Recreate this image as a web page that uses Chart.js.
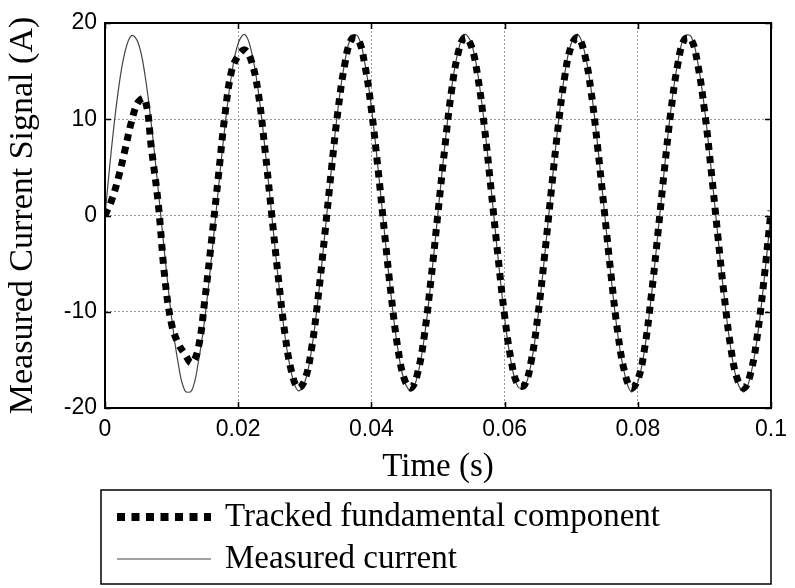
<!DOCTYPE html>
<html lang="en">
<head>
<meta charset="utf-8">
<script src="https://cdn.jsdelivr.net/npm/chart.js"></script>
<style>
  html, body { margin: 0; padding: 0; background: #fff; }
  #wrap { width: 795px; height: 588px; }
</style>
</head>
<body>
<div id="wrap"><canvas id="currentChart" width="795" height="588"></canvas></div>
<script>
// time samples (s), 1 ms apart
const time = [
  0, 0.001, 0.002, 0.003, 0.004, 0.005, 0.006, 0.007, 0.008, 0.009,
  0.010, 0.011, 0.012, 0.013, 0.014, 0.015, 0.016, 0.017, 0.018, 0.019,
  0.020, 0.021, 0.022, 0.023, 0.024, 0.025, 0.026, 0.027, 0.028, 0.029,
  0.030, 0.031, 0.032, 0.033, 0.034, 0.035, 0.036, 0.037, 0.038, 0.039,
  0.040, 0.041, 0.042, 0.043, 0.044, 0.045, 0.046, 0.047, 0.048, 0.049,
  0.050, 0.051, 0.052, 0.053, 0.054, 0.055, 0.056, 0.057, 0.058, 0.059,
  0.060, 0.061, 0.062, 0.063, 0.064, 0.065, 0.066, 0.067, 0.068, 0.069,
  0.070, 0.071, 0.072, 0.073, 0.074, 0.075, 0.076, 0.077, 0.078, 0.079,
  0.080, 0.081, 0.082, 0.083, 0.084, 0.085, 0.086, 0.087, 0.088, 0.089,
  0.090, 0.091, 0.092, 0.093, 0.094, 0.095, 0.096, 0.097, 0.098, 0.099,
  0.100
];

// tracked fundamental component (A)
const tracked = [
  0, 1.6, 3.9, 6.8, 9.8, 11.8, 12.1, 6.8, 1.2, -6.6,
  -11.3, -13.3, -14.4, -15.3, -13.8, -8.7, -2.6, 3.9, 10.4, 15.0,
  16.6, 17.2, 16.0, 12.8, 7.0, 0.3, -6.3, -12.2, -16.2, -17.9,
  -17.1, -13.9, -8.5, -2.0, 4.8, 11.0, 15.7, 18.3, 18.3, 15.7,
  11.0, 4.8, -2.0, -8.5, -13.9, -17.1, -17.9, -16.2, -12.2, -6.3,
  0.3, 6.9, 12.8, 16.8, 18.5, 17.6, 14.3, 9.0, 2.5, -4.2,
  -10.4, -15.1, -17.6, -17.6, -15.1, -10.4, -4.2, 2.5, 9.0, 14.3,
  17.6, 18.5, 16.8, 12.8, 6.9, 0.3, -6.3, -12.2, -16.2, -17.9,
  -17.1, -13.9, -8.5, -2.0, 4.8, 11.0, 15.7, 18.3, 18.3, 15.7,
  11.0, 4.8, -2.0, -8.5, -13.9, -17.1, -17.9, -16.2, -12.2, -6.3,
  0.5
];

// measured current (A)
const measured = [
  0, 7.1, 13.0, 17.0, 18.7, 17.9, 14.6, 9.2, 2.6, -4.3,
  -10.6, -15.4, -18.2, -18.2, -15.3, -10.6, -4.3, 2.6, 9.2, 14.6,
  17.9, 18.8, 17.0, 13.0, 7.1, 0.3, -6.5, -12.4, -16.4, -18.2,
  -17.3, -14.0, -8.6, -2.0, 4.9, 11.2, 15.9, 18.6, 18.6, 15.9,
  11.2, 4.9, -2.0, -8.6, -14.0, -17.3, -18.2, -16.4, -12.4, -6.5,
  0.3, 7.1, 13.0, 17.0, 18.8, 17.9, 14.6, 9.2, 2.6, -4.3,
  -10.6, -15.3, -17.8, -17.8, -15.3, -10.6, -4.3, 2.6, 9.2, 14.6,
  17.9, 18.8, 17.0, 13.0, 7.1, 0.3, -6.5, -12.4, -16.4, -18.3,
  -17.3, -14.0, -8.6, -2.0, 4.9, 11.2, 15.9, 18.6, 18.6, 15.9,
  11.2, 4.9, -2.0, -8.6, -14.0, -17.4, -18.3, -16.4, -12.4, -6.5,
  0.3
];

const seriesNames = ['Tracked fundamental component', 'Measured current'];
const xTicks = [0, 0.02, 0.04, 0.06, 0.08, 0.1];
const yTicks = [-20, -10, 0, 10, 20];

const SERIF = '"Liberation Serif", "Times New Roman", serif';
const SANS = '"Liberation Sans", Arial, sans-serif';

// black frame round the plot plus small inward ticks (matlab style)
const frameBox = {
  id: 'frameBox',
  afterDatasetsDraw(chart) {
    const { ctx, chartArea: a, scales } = chart;
    ctx.save();
    ctx.strokeStyle = '#000';
    ctx.lineWidth = 1.5;
    ctx.beginPath();
    xTicks.forEach(v => {
      const x = Math.round(scales.x.getPixelForValue(v)) + 0.5;
      ctx.moveTo(x, a.bottom); ctx.lineTo(x, a.bottom - 6);
      ctx.moveTo(x, a.top); ctx.lineTo(x, a.top + 6);
    });
    yTicks.forEach(v => {
      const y = Math.round(scales.y.getPixelForValue(v)) + 0.5;
      ctx.moveTo(a.left, y); ctx.lineTo(a.left + 6, y);
      ctx.moveTo(a.right, y); ctx.lineTo(a.right - 6, y);
    });
    ctx.stroke();
    ctx.lineWidth = 2;
    ctx.strokeRect(a.left, a.top, a.right - a.left, a.bottom - a.top);
    ctx.restore();
  }
};

// legend box under the axis title
const boxLegend = {
  id: 'boxLegend',
  afterDraw(chart) {
    const { ctx } = chart;
    const ds = chart.data.datasets;
    ctx.save();
    ctx.strokeStyle = '#000';
    ctx.lineWidth = 1.5;
    ctx.strokeRect(101, 490, 670, 94);
    const rows = [517, 559];
    ds.forEach((d, i) => {
      const y = rows[i];
      ctx.beginPath();
      ctx.strokeStyle = d.borderColor;
      ctx.lineWidth = i === 0 ? 8 : d.borderWidth;
      ctx.setLineDash(i === 0 ? [8, 6.5] : []);
      ctx.moveTo(117, y);
      ctx.lineTo(211, y);
      ctx.stroke();
      ctx.setLineDash([]);
      ctx.fillStyle = '#000';
      ctx.font = '33px ' + SERIF;
      ctx.textBaseline = 'middle';
      ctx.fillText(d.label, 225, y);
    });
    ctx.restore();
  }
};

new Chart(document.getElementById('currentChart'), {
  type: 'line',
  data: {
    labels: time,
    datasets: [
      {
        label: seriesNames[0],
        data: tracked,
        borderColor: '#000',
        borderWidth: 7,
        borderDash: [7, 6],
        borderCapStyle: 'butt',
        pointRadius: 0,
        tension: 0.4,
        fill: false
      },
      {
        label: seriesNames[1],
        data: measured,
        borderColor: '#444',
        borderWidth: 1.2,
        pointRadius: 0,
        tension: 0.4,
        fill: false
      }
    ]
  },
  options: {
    responsive: false,
    animation: false,
    layout: { padding: { left: 3, top: 23, right: 18, bottom: 101 } },
    plugins: {
      legend: { display: false },
      tooltip: { enabled: false }
    },
    scales: {
      x: {
        type: 'linear',
        min: 0,
        max: 0.1,
        afterBuildTicks: s => { s.ticks = xTicks.map(v => ({ value: v })); },
        afterFit: s => { s.height = 79; },
        ticks: {
          color: '#000',
          font: { family: SANS, size: 23 },
          padding: 8,
          maxRotation: 0,
          callback: v => String(+v.toFixed(2))
        },
        grid: { color: '#999', drawTicks: false },
        border: { color: '#000', width: 2, dash: [2, 2] },
        title: {
          display: true,
          text: 'Time (s)',
          color: '#000',
          font: { family: SERIF, size: 33 },
          padding: 0
        }
      },
      y: {
        min: -20,
        max: 20,
        afterBuildTicks: s => { s.ticks = yTicks.map(v => ({ value: v })); },
        afterFit: s => { s.width = 102; },
        ticks: {
          color: '#000',
          font: { family: SANS, size: 23 },
          padding: 8
        },
        grid: { color: '#999', drawTicks: false },
        border: { color: '#000', width: 2, dash: [2, 2] },
        title: {
          display: true,
          text: 'Measured Current Signal (A)',
          color: '#000',
          font: { family: SERIF, size: 34 },
          padding: 0
        }
      }
    }
  },
  plugins: [frameBox, boxLegend]
});
</script>
</body>
</html>
